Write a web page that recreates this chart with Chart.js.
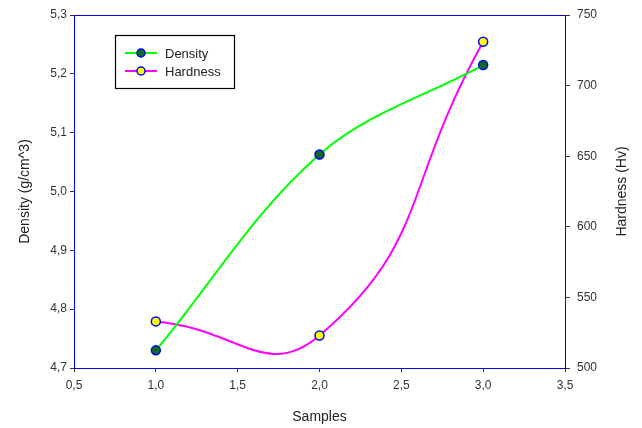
<!DOCTYPE html>
<html>
<head>
<meta charset="utf-8">
<script src="https://cdn.jsdelivr.net/npm/chart.js@4.4.0/dist/chart.umd.min.js"></script>
<style>
  html, body { margin: 0; padding: 0; background: #fff; }
  #wrap { width: 642px; height: 428px; }
</style>
</head>
<body>
<div id="wrap"><canvas id="lineChart" width="642" height="428"></canvas></div>
<script>
// データ
const samples = [1, 2, 3];
const density = [4.73, 5.063, 5.215];
const hardness = [533, 523, 731];

const comma = function(v){ return Number(v).toFixed(1).replace('.', ','); };
const FONT = '"Liberation Sans", Arial, sans-serif';

// 枠・右軸タイトル・レジェンド
const framePlugin = {
  id: 'frame',
  beforeDatasetsDraw(chart){
    const a = chart.chartArea, ctx = chart.ctx;
    ctx.save();
    ctx.strokeStyle = '#0000ff';
    ctx.lineWidth = 1;
    ctx.strokeRect(a.left + 0.5, a.top + 0.5, a.right - a.left, a.bottom - a.top);
    ctx.restore();
  },
  afterDraw(chart){
    const a = chart.chartArea, ctx = chart.ctx;
    ctx.save();
    // 右軸タイトル（下から上へ）
    ctx.translate(chart.width - 20, (a.top + a.bottom) / 2);
    ctx.rotate(-Math.PI / 2);
    ctx.fillStyle = '#222';
    ctx.font = '14px ' + FONT;
    ctx.textAlign = 'center';
    ctx.textBaseline = 'middle';
    ctx.fillText('Hardness (Hv)', 0, 0);
    ctx.restore();

    const bx = a.left + 41, by = a.top + 20;
    ctx.save();
    ctx.fillStyle = '#fff';
    ctx.fillRect(bx, by, 119, 53);
    ctx.strokeStyle = '#000';
    ctx.lineWidth = 1.2;
    ctx.strokeRect(bx + 0.5, by + 0.5, 119, 53);
    chart.data.datasets.forEach(function(ds, i){
      const y = by + 18 + i * 18;
      ctx.strokeStyle = ds.borderColor;
      ctx.lineWidth = 2;
      ctx.beginPath();
      ctx.moveTo(bx + 10, y);
      ctx.lineTo(bx + 42, y);
      ctx.stroke();
      ctx.beginPath();
      ctx.arc(bx + 26, y, 4, 0, Math.PI * 2);
      ctx.fillStyle = ds.pointBackgroundColor;
      ctx.fill();
      ctx.strokeStyle = ds.pointBorderColor;
      ctx.lineWidth = 1.5;
      ctx.stroke();
      ctx.fillStyle = '#222';
      ctx.font = '13px ' + FONT;
      ctx.textBaseline = 'middle';
      ctx.fillText(ds.label, bx + 50, y + 1);
    });
    ctx.restore();
  }
};

const tickFont = { family: FONT, size: 12 };
const titleFont = { family: FONT, size: 14 };

let lineConfig = {
  type: 'line',
  data: {
    datasets: [{
      label: 'Density',
      data: samples.map(function(s, i){ return { x: s, y: density[i] }; }),
      yAxisID: 'y',
      borderColor: '#00ff00',
      borderWidth: 2,
      pointBackgroundColor: '#0b6b1e',
      pointBorderColor: '#0000ff',
      pointBorderWidth: 1.5,
      pointRadius: 4.5,
      tension: 0.35,
      capBezierPoints: false,
      fill: false
    }, {
      label: 'Hardness',
      data: samples.map(function(s, i){ return { x: s, y: hardness[i] }; }),
      yAxisID: 'y1',
      borderColor: '#ff00ff',
      borderWidth: 2,
      pointBackgroundColor: '#ffff00',
      pointBorderColor: '#0000ff',
      pointBorderWidth: 1.5,
      pointRadius: 4.5,
      tension: 0.5,
      capBezierPoints: false,
      fill: false
    }]
  },
  options: {
    responsive: false,
    animation: false,
    layout: { padding: { top: 15, left: 0, right: 0, bottom: 0 } },
    plugins: {
      legend: { display: false },
      tooltip: { enabled: false }
    },
    scales: {
      x: {
        type: 'linear',
        min: 0.5, max: 3.5,
        ticks: { stepSize: 0.5, callback: comma, color: '#333', font: tickFont, padding: 6, maxRotation: 0 },
        grid: { drawOnChartArea: false, color: '#333', tickLength: 4 },
        border: { color: '#0000ff' },
        title: { display: true, text: 'Samples', color: '#222', font: titleFont, padding: { top: 2, bottom: 2 } },
        afterFit: function(s){ s.height = 60; }
      },
      y: {
        position: 'left',
        min: 4.7, max: 5.3,
        ticks: { stepSize: 0.1, callback: comma, color: '#333', font: tickFont, padding: 3 },
        grid: { drawOnChartArea: false, color: '#333', tickLength: 4 },
        border: { color: '#0000ff' },
        title: { display: true, text: 'Density (g/cm^3)', color: '#222', font: titleFont, padding: { top: 17, bottom: 0 } },
        afterFit: function(s){ s.width = 74; }
      },
      y1: {
        position: 'right',
        min: 500, max: 750,
        ticks: { stepSize: 50, color: '#333', font: tickFont, padding: 7 },
        grid: { drawOnChartArea: false, color: '#333', tickLength: 5 },
        border: { color: '#0000ff' },
        afterFit: function(s){ s.width = 77; }
      }
    }
  },
  plugins: [framePlugin]
};

let lineChart = new Chart(document.getElementById('lineChart'), lineConfig);
</script>
</body>
</html>
